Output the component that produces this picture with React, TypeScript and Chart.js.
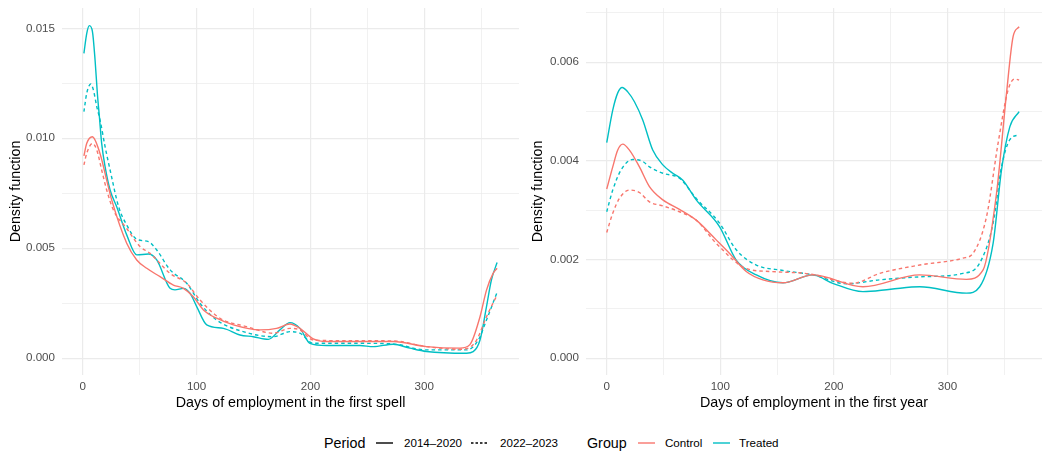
import React, { useEffect, useRef } from "react";
import { Chart, registerables } from "chart.js";

Chart.register(...registerables);

const FONT = "'Liberation Sans', Arial, Helvetica, sans-serif";
const CONTROL = "#F8766D";
const TREATED = "#00BFC4";

// Shared x ticks (days); labelled every 100
const X_TICKS = [0, 50, 100, 150, 200, 250, 300, 350];

// ---- Panel 1: days of employment in the first spell ----
const spellCtrlEarlyDays = [1, 3.5, 8.4, 15.2, 21, 25.4, 38.6, 47.4, 56.2, 67.9, 79.6, 88.4, 97.1, 106, 117.6, 132.3, 155.7, 170.3, 182, 190.8, 202.5, 214.2, 243.5, 272.7, 302, 331.3, 340.1, 349, 354.7, 360.5, 364];
const spellCtrlEarlyDens = [0.0092, 0.00977, 0.01007, 0.0093, 0.0081, 0.0072, 0.00523, 0.00447, 0.00409, 0.00371, 0.00333, 0.00318, 0.0028, 0.0022, 0.00182, 0.00152, 0.00129, 0.00136, 0.00156, 0.00136, 0.00088, 0.00076, 0.00076, 0.00076, 0.00053, 0.00046, 0.00062, 0.00189, 0.0031, 0.00386, 0.00409];

const spellCtrlLateDays = [1, 3.5, 8.5, 12.3, 16.6, 21, 26.9, 38.6, 50.3, 59.1, 76.7, 91.3, 103, 120.6, 144, 167.4, 182, 190.8, 202.5, 228.9, 272.7, 302, 331.3, 340, 346, 354.7, 364];
const spellCtrlLateDens = [0.00879, 0.00932, 0.00977, 0.00947, 0.00856, 0.00765, 0.00674, 0.0059, 0.00508, 0.00477, 0.00386, 0.00341, 0.00265, 0.00182, 0.00144, 0.00114, 0.00136, 0.00129, 0.00083, 0.0008, 0.00079, 0.00053, 0.00041, 0.0005, 0.00083, 0.00189, 0.00288];

const spellTreatEarlyDays = [1, 3.5, 5.8, 8.5, 10.8, 12.8, 14.6, 16.6, 19.6, 24, 29.8, 38.6, 47.4, 57.7, 65, 76.7, 81, 88.4, 94.2, 100.1, 108.9, 123.5, 138.1, 149.8, 163, 173.2, 182, 190.8, 199.6, 214.2, 243.5, 255.2, 272.7, 287.4, 302, 337.2, 343, 349, 354.7, 359, 364];
const spellTreatEarlyDens = [0.01386, 0.01477, 0.01512, 0.01485, 0.01356, 0.01205, 0.01098, 0.00977, 0.00871, 0.00765, 0.00689, 0.00561, 0.0047, 0.00474, 0.00447, 0.00318, 0.00311, 0.00318, 0.00296, 0.00235, 0.00152, 0.00136, 0.00106, 0.00098, 0.00086, 0.00129, 0.00162, 0.00136, 0.00068, 0.00058, 0.00058, 0.00053, 0.00064, 0.00046, 0.00031, 0.00023, 0.0003, 0.00083, 0.00235, 0.00356, 0.00435];

const spellTreatLateDays = [1, 3.5, 7, 9.3, 12.3, 15.2, 19.6, 24, 31.5, 38.6, 47.4, 57.7, 65, 76.7, 91.3, 103, 117.6, 141, 167.4, 182, 190.8, 202.5, 243.5, 272.7, 302, 337.2, 347.5, 354.7, 364];
const spellTreatLateDens = [0.01121, 0.01205, 0.01247, 0.0122, 0.01144, 0.01083, 0.00962, 0.00856, 0.00689, 0.00606, 0.00541, 0.0053, 0.00492, 0.00402, 0.00341, 0.0025, 0.00174, 0.00121, 0.00098, 0.00121, 0.00114, 0.00068, 0.00068, 0.00065, 0.00038, 0.00038, 0.00083, 0.00174, 0.003];

const SPELL_Y_TICKS = [0, 0.0025, 0.005, 0.0075, 0.01, 0.0125, 0.015];

// ---- Panel 2: days of employment in the first year ----
const yearCtrlEarlyDays = [0, 5.3, 9.7, 14.1, 20, 28.8, 37.6, 49.4, 64, 78.8, 96.4, 108, 122.8, 137.5, 155.1, 181.5, 225.6, 275.6, 316.7, 331.4, 343.2, 352, 357.8, 363.1];
const yearCtrlEarlyDens = [0.00343, 0.00388, 0.00422, 0.00434, 0.00422, 0.00388, 0.00348, 0.00321, 0.00302, 0.0028, 0.0024, 0.00213, 0.00176, 0.00159, 0.00153, 0.00169, 0.00145, 0.00169, 0.0016, 0.00179, 0.00334, 0.00537, 0.00652, 0.00672];

const yearCtrlLateDays = [0, 5.3, 11.2, 20, 28.8, 37.6, 49.4, 64, 78.8, 96.4, 122.8, 143.4, 178.6, 216.8, 240.3, 275.6, 313.7, 322.6, 334.4, 344.6, 353.4, 359.3, 363.1];
const yearCtrlLateDens = [0.00255, 0.00294, 0.00324, 0.00341, 0.00336, 0.00317, 0.00309, 0.00297, 0.0028, 0.00233, 0.00182, 0.00176, 0.00171, 0.00152, 0.00172, 0.00189, 0.00203, 0.00213, 0.00287, 0.00436, 0.00544, 0.00566, 0.00564];

const yearTreatEarlyDays = [0, 5.3, 9.7, 13.6, 18.5, 24.4, 31.7, 40.5, 49.4, 58.2, 67, 78.8, 99.3, 114, 131.7, 155.1, 181.5, 199, 225.6, 250, 275.6, 316.7, 328.4, 340.2, 347.6, 354.9, 363.1];
const yearTreatEarlyDens = [0.00437, 0.00503, 0.00538, 0.00549, 0.0054, 0.0052, 0.00483, 0.00422, 0.00392, 0.00375, 0.00361, 0.00321, 0.00267, 0.00199, 0.00169, 0.00153, 0.00169, 0.00152, 0.00135, 0.0014, 0.00145, 0.00132, 0.00145, 0.00233, 0.00382, 0.00469, 0.005];

const yearTreatLateDays = [0, 5.3, 12.7, 23, 31.7, 37.6, 49.4, 64, 78.8, 99.3, 114, 131.7, 155.1, 181.5, 211.3, 240.3, 275.6, 313.7, 328.4, 340.2, 347.6, 354.9, 363.1];
const yearTreatLateDens = [0.00297, 0.00341, 0.00382, 0.00403, 0.00399, 0.00388, 0.00375, 0.00365, 0.00324, 0.00274, 0.0022, 0.00189, 0.00178, 0.00169, 0.00151, 0.00159, 0.00165, 0.00172, 0.00193, 0.00274, 0.00388, 0.00443, 0.00453];

const YEAR_Y_TICKS = [0, 0.001, 0.002, 0.003, 0.004, 0.005, 0.006, 0.007];

type Series = { days: number[]; dens: number[]; color: string; dashed: boolean };

type PanelProps = {
  series: Series[];
  xTitle: string;
  yMin: number;
  yMax: number;
  yTicks: number[];
  yLabelEvery: number;
  padRight: number;
  yTitlePad: number;
};

// Drop the label-overflow padding Chart.js adds, so the plot area is set by layout.padding alone
function noEdgePadding(scale: any) {
  scale.paddingTop = 0;
  scale.paddingBottom = 0;
  scale.paddingLeft = 0;
  scale.paddingRight = 0;
}

function DensityPanel(props: PanelProps) {
  const ref = useRef<HTMLCanvasElement | null>(null);

  useEffect(() => {
    if (!ref.current) return;
    const { series, xTitle, yMin, yMax, yTicks, yLabelEvery, padRight, yTitlePad } = props;
    const chart = new Chart(ref.current, {
      type: "line",
      data: {
        datasets: series.map((s) => ({
          data: s.days.map((d, i) => ({ x: d, y: s.dens[i] })),
          borderColor: s.color,
          backgroundColor: s.color,
          borderWidth: 1.4,
          borderDash: s.dashed ? [3.5, 3] : [],
          pointRadius: 0,
          cubicInterpolationMode: "monotone" as const,
          fill: false,
        })),
      },
      options: {
        animation: false,
        responsive: false,
        maintainAspectRatio: false,
        events: [],
        layout: { padding: { top: 8, right: padRight, left: 0, bottom: 0 } },
        plugins: { legend: { display: false }, tooltip: { enabled: false } },
        scales: {
          x: {
            type: "linear",
            min: -18.25,
            max: 383.25,
            afterBuildTicks: (scale: any) => {
              scale.ticks = X_TICKS.map((v) => ({ value: v }));
            },
            afterFit: (scale: any) => {
              scale.height = 45;
              noEdgePadding(scale);
            },
            border: { display: false },
            grid: {
              color: "#EBEBEB",
              drawTicks: false,
              lineWidth: (ctx: any) => (ctx.tick && ctx.tick.value % 100 === 0 ? 1.2 : 0.7),
            },
            ticks: {
              autoSkip: false,
              maxRotation: 0,
              padding: 5,
              color: "#4D4D4D",
              font: { family: FONT, size: 11.6 },
              callback: (v: any) => (Number(v) % 100 === 0 ? String(v) : ""),
            },
            title: {
              display: true,
              text: xTitle,
              color: "#000000",
              font: { family: FONT, size: 14.3 },
              padding: { top: 0, bottom: 8 },
            },
          },
          y: {
            type: "linear",
            min: yMin,
            max: yMax,
            afterBuildTicks: (scale: any) => {
              scale.ticks = yTicks.map((v) => ({ value: v }));
            },
            afterFit: (scale: any) => {
              scale.width = 62;
              noEdgePadding(scale);
            },
            border: { display: false },
            grid: {
              color: "#EBEBEB",
              drawTicks: false,
              lineWidth: (ctx: any) => (ctx.index % yLabelEvery === 0 ? 1.2 : 0.7),
            },
            ticks: {
              autoSkip: false,
              padding: 7,
              color: "#4D4D4D",
              font: { family: FONT, size: 11.6 },
              callback: (v: any, i: number) => (i % yLabelEvery === 0 ? Number(v).toFixed(3) : ""),
            },
            title: {
              display: true,
              text: "Density function",
              color: "#000000",
              font: { family: FONT, size: 14.3 },
              padding: { top: yTitlePad, bottom: 0 },
            },
          },
        },
      },
    } as any);
    return () => chart.destroy();
  }, []);

  return <canvas ref={ref} width={524} height={420} style={{ display: "block", width: 524, height: 420 }} />;
}

function LineKey({ left, color, dashed }: { left: number; color: string; dashed: boolean }) {
  return (
    <svg width={17} height={4} style={{ position: "absolute", left, top: 7 }}>
      <line x1={0} y1={2} x2={17} y2={2} stroke={color} strokeWidth={1.4} strokeDasharray={dashed ? "2.5 2" : undefined} />
    </svg>
  );
}

export default function App() {
  const textBase: React.CSSProperties = { position: "absolute", top: 0, lineHeight: "18px", whiteSpace: "nowrap", color: "#000" };
  return (
    <div style={{ position: "fixed", left: 0, top: 0, width: 1048, height: 452, background: "#FFFFFF", fontFamily: FONT }}>
      <div style={{ position: "absolute", left: 0, top: 0 }}>
        <DensityPanel
          series={[
            { days: spellCtrlEarlyDays, dens: spellCtrlEarlyDens, color: CONTROL, dashed: false },
            { days: spellCtrlLateDays, dens: spellCtrlLateDens, color: CONTROL, dashed: true },
            { days: spellTreatEarlyDays, dens: spellTreatEarlyDens, color: TREATED, dashed: false },
            { days: spellTreatLateDays, dens: spellTreatLateDens, color: TREATED, dashed: true },
          ]}
          xTitle="Days of employment in the first spell"
          yMin={-0.00076}
          yMax={0.015923}
          yTicks={SPELL_Y_TICKS}
          yLabelEvery={2}
          padRight={5}
          yTitlePad={7}
        />
      </div>
      <div style={{ position: "absolute", left: 524, top: 0 }}>
        <DensityPanel
          series={[
            { days: yearCtrlEarlyDays, dens: yearCtrlEarlyDens, color: CONTROL, dashed: false },
            { days: yearCtrlLateDays, dens: yearCtrlLateDens, color: CONTROL, dashed: true },
            { days: yearTreatEarlyDays, dens: yearTreatEarlyDens, color: TREATED, dashed: false },
            { days: yearTreatLateDays, dens: yearTreatLateDens, color: TREATED, dashed: true },
          ]}
          xTitle="Days of employment in the first year"
          yMin={-0.000339}
          yMax={0.0071}
          yTicks={YEAR_Y_TICKS}
          yLabelEvery={2}
          padRight={6}
          yTitlePad={5.5}
        />
      </div>
      <div style={{ position: "absolute", left: 0, top: 434, width: 1048, height: 18 }}>
        <span style={{ ...textBase, left: 324, fontSize: 14.3 }}>Period</span>
        <LineKey left={376} color="#000000" dashed={false} />
        <span style={{ ...textBase, left: 404, fontSize: 11.6 }}>2014–2020</span>
        <LineKey left={471} color="#000000" dashed={true} />
        <span style={{ ...textBase, left: 500, fontSize: 11.6 }}>2022–2023</span>
        <span style={{ ...textBase, left: 587, fontSize: 14.3 }}>Group</span>
        <LineKey left={638} color={CONTROL} dashed={false} />
        <span style={{ ...textBase, left: 665, fontSize: 11.6 }}>Control</span>
        <LineKey left={713} color={TREATED} dashed={false} />
        <span style={{ ...textBase, left: 739, fontSize: 11.6 }}>Treated</span>
      </div>
    </div>
  );
}
